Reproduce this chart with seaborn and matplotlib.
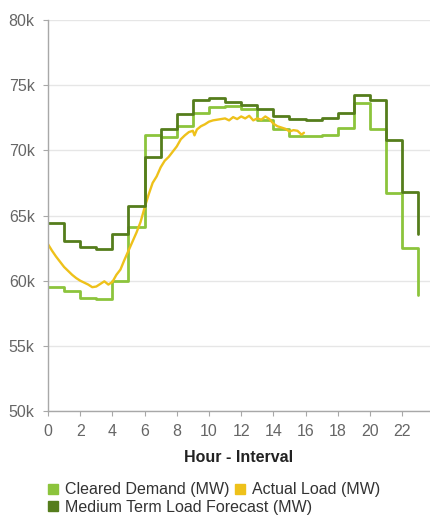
import matplotlib
matplotlib.use('Agg')
import matplotlib.pyplot as plt
from matplotlib.lines import Line2D
from matplotlib.ticker import FuncFormatter
import seaborn as sns

# hourly steps, hour 0..23 (MW)
hours = list(range(24))
cleared_demand = [59530, 59200, 58700, 58600, 60000, 64100, 71200, 71050,
                  71900, 72850, 73350, 73400, 73200, 72300, 71650, 71100,
                  71100, 71200, 71700, 73600, 71600, 66700, 62500, 58900]
medium_term_forecast = [64400, 63060, 62600, 62400, 63600, 65750, 69500, 71660,
                        72800, 73860, 74000, 73700, 73450, 73150, 72600, 72400,
                        72350, 72460, 72840, 74240, 73860, 70800, 66830, 63600]

actual_hours = [0.0, 0.25, 0.5, 0.75, 1.0, 1.25, 1.5, 1.75, 2.0, 2.25, 2.5, 2.75,
                3.0, 3.25, 3.5, 3.75, 4.0, 4.25, 4.5, 4.75, 5.0, 5.25, 5.5, 5.75,
                6.0, 6.25, 6.5, 6.75, 7.0, 7.25, 7.5, 7.75, 8.0, 8.25, 8.5, 8.75,
                9.0, 9.1, 9.25, 9.5, 9.75, 10.0, 10.25, 10.5, 10.75, 11.0, 11.25,
                11.5, 11.75, 12.0, 12.25, 12.5, 12.75, 13.0, 13.25, 13.5, 13.75,
                14.0, 14.25, 14.5, 14.75, 15.0, 15.25, 15.5, 15.75, 15.9]
actual_load = [62800, 62300, 61850, 61450, 61050, 60750, 60450, 60200, 60000,
               59850, 59700, 59500, 59550, 59750, 59950, 59700, 59900, 60450,
               60850, 61600, 62300, 63000, 63700, 64500, 65600, 66600, 67500,
               68000, 68700, 69200, 69500, 69900, 70300, 70850, 71150, 71400,
               71500, 71150, 71600, 71850, 72000, 72200, 72300, 72350, 72400,
               72450, 72300, 72550, 72400, 72600, 72450, 72650, 72300, 72450,
               72350, 72600, 72400, 72050, 71850, 71750, 71650, 71450, 71550,
               71500, 71200, 71350]

series_names = ['Cleared Demand (MW)', 'Actual Load (MW)', 'Medium Term Load Forecast (MW)']
light_green = '#8cc43c'
yellow = '#eec11a'
dark_green = '#557d1c'

sns.set_style('white')
plt.rcParams['font.family'] = ['Liberation Sans', 'DejaVu Sans']

fig, ax = plt.subplots(figsize=(4.3, 5.16), dpi=100)
fig.subplots_adjust(left=0.1116, right=1.0, top=0.9612, bottom=0.2035)

sns.lineplot(x=hours, y=cleared_demand, drawstyle='steps-post', color=light_green, lw=2, ax=ax)
sns.lineplot(x=actual_hours, y=actual_load, color=yellow, lw=1.7, ax=ax)
sns.lineplot(x=hours, y=medium_term_forecast, drawstyle='steps-post', color=dark_green, lw=2, ax=ax)

ax.set_xlim(0, 23.73)
ax.set_ylim(50000, 80000)
ax.set_xticks(range(0, 24, 2))
ax.set_yticks(range(50000, 80001, 5000))
ax.yaxis.set_major_formatter(FuncFormatter(lambda v, p: f'{v / 1000:.0f}k'))

ax.yaxis.grid(True, color='#e6e6e6', lw=1)
ax.set_axisbelow(True)
sns.despine(ax=ax, top=True, right=True)
for side in ['left', 'bottom']:
    ax.spines[side].set_color('#a8a8a8')
    ax.spines[side].set_linewidth(1)

ax.tick_params(axis='both', bottom=True, left=True, direction='out', length=3.6,
               width=0.8, color='#a8a8a8', labelcolor='#666666', labelsize=11.5, pad=6)
ax.set_xlabel('Hour - Interval', fontweight='bold', fontsize=11.5, color='#222222', labelpad=8)
ax.set_ylabel('')

def square(c):
    return Line2D([], [], ls='', marker='s', markersize=6.5, color=c)

leg_kw = dict(frameon=False, fontsize=11.5, handlelength=0.7, handletextpad=0.4,
              borderpad=0, borderaxespad=0, labelcolor='#333333', loc='center left')
fig.legend([square(light_green), square(yellow)], series_names[:2], ncol=2,
           columnspacing=0.3, bbox_to_anchor=(0.11, 0.0504), **leg_kw)
fig.legend([square(dark_green)], series_names[2:], bbox_to_anchor=(0.11, 0.0174), **leg_kw)

fig.savefig('out.png', dpi=100)
